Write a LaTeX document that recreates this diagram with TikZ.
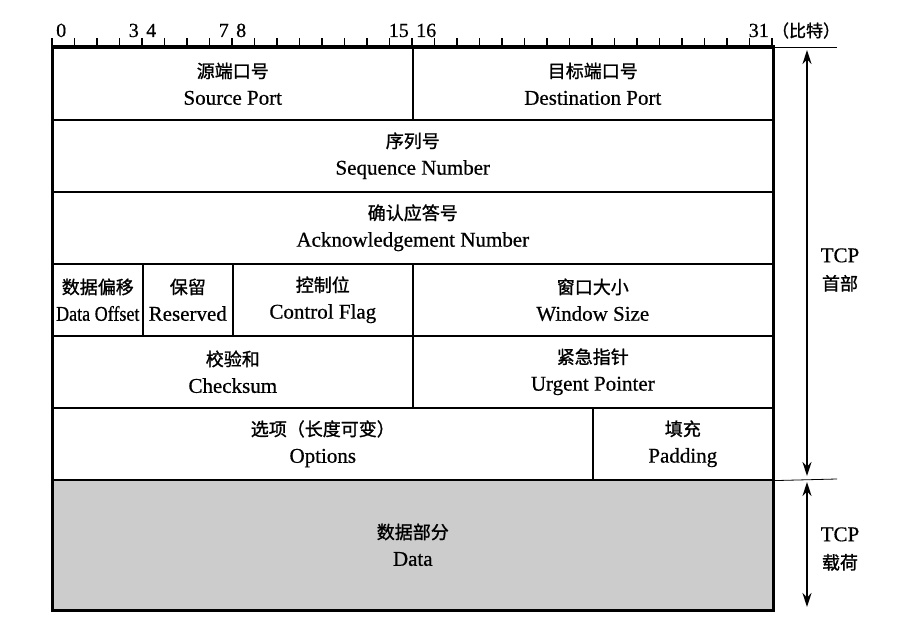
\documentclass[tikz,border=0pt]{standalone}
\usepackage{fontspec}
\setmainfont{Liberation Serif}[FakeBold=0.6]
\newfontfamily\cjk{Noto Sans CJK SC}[FakeBold=1.2]
\usetikzlibrary{arrows.meta}

\begin{document}
\begin{tikzpicture}[x=1pt,y=-1pt,
	field/.style={draw,line width=1.6pt,anchor=north west,inner sep=0pt,align=center,
		minimum height=72pt,font=\fontsize{21}{27}\selectfont},
	bitnum/.style={inner sep=0pt,font=\fontsize{20}{22}\selectfont},
	sidelabel/.style={align=center,inner sep=0pt,font=\fontsize{21}{28}\selectfont},
	dimarrow/.style={line width=1.8pt,{Stealth[length=14pt,width=9pt]}-{Stealth[length=14pt,width=9pt]}}]
		\useasboundingbox (0,0) rectangle (920,644);
		\def\xo{52}
		\def\yo{47}
		\def\bw{22.5}
		\def\rh{72}
		% header fields: name / first bit / bits / row / text
		\foreach \nm/\b/\w/\r/\txt in {
			srcport/0/16/0/{{\cjk\fontsize{18}{27}\selectfont 源端口号}\\Source Port},
			dstport/16/16/0/{{\cjk\fontsize{18}{27}\selectfont 目标端口号}\\Destination Port},
			seqnum/0/32/1/{{\cjk\fontsize{18}{27}\selectfont 序列号}\\Sequence Number},
			acknum/0/32/2/{{\cjk\fontsize{18}{27}\selectfont 确认应答号}\\Acknowledgement Number},
			offset/0/4/3/{{\cjk\fontsize{18}{27}\selectfont 数据偏移}\\\scalebox{0.86}[1]{Data Offset}},
			reserved/4/4/3/{{\cjk\fontsize{18}{27}\selectfont 保留}\\Reserved},
			flags/8/8/3/{{\cjk\fontsize{18}{27}\selectfont 控制位}\\Control Flag},
			window/16/16/3/{{\cjk\fontsize{18}{27}\selectfont 窗口大小}\\Window Size},
			checksum/0/16/4/{{\cjk\fontsize{18}{27}\selectfont 校验和}\\Checksum},
			urgent/16/16/4/{{\cjk\fontsize{18}{27}\selectfont 紧急指针}\\Urgent Pointer},
			options/0/24/5/{{\cjk\fontsize{18}{27}\selectfont 选项（长度可变）}\\Options},
			padding/24/8/5/{{\cjk\fontsize{18}{27}\selectfont 填充}\\Padding}}
			\node[field,minimum width=\w*\bw pt] (\nm) at (\xo+\b*\bw,\yo+\r*\rh) {\txt};
		% payload
		\node[field,fill=black!20,minimum width=32*\bw pt,minimum height=130pt] (data) at (\xo,\yo+6*\rh)
			{{\cjk\fontsize{18}{27}\selectfont 数据部分}\\Data};
		\draw[line width=3pt] (srcport.north west) rectangle (data.south east);
		% bit ruler
		\foreach \i in {0,...,32}
			\draw[line width=1.3pt] (\xo+\i*\bw,\yo) -- ++(0,-9);
		\foreach \b in {0,4,8,16}
			\node[bitnum,anchor=base west] (bit\b) at (\xo+\b*\bw+4,\yo-10) {\b};
		\foreach \b in {3,7,15,31}
			\node[bitnum,anchor=base east] (bit\b) at (\xo+\b*\bw+\bw-3,\yo-10) {\b};
		\node[inner sep=0pt,anchor=base west,font=\cjk\fontsize{17}{20}\selectfont] (unit) at (bit31.base east) {\,（比特）};
		% header / payload extent
		\coordinate (hdrtop) at (837,\yo);
		\coordinate (hdrbot) at (837,\yo+6*\rh);
		\draw[line width=0.8pt] (dstport.north east) -- (hdrtop);
		\draw[line width=0.8pt] (padding.south east) -- (hdrbot);
		\coordinate (a1) at (807,\yo+3);
		\coordinate (a2) at (807,\yo+6*\rh-3);
		\coordinate (a3) at (807,\yo+6*\rh+3);
		\coordinate (a4) at (807,607);
		\draw[dimarrow] (a1) -- (a2);
		\draw[dimarrow] (a3) -- (a4);
		\node[sidelabel] (hdrlabel) at (840,270) {TCP\\{\cjk\fontsize{18}{28}\selectfont 首部}};
		\node[sidelabel] (datalabel) at (840,549) {TCP\\{\cjk\fontsize{18}{28}\selectfont 载荷}};
\end{tikzpicture}
\end{document}
